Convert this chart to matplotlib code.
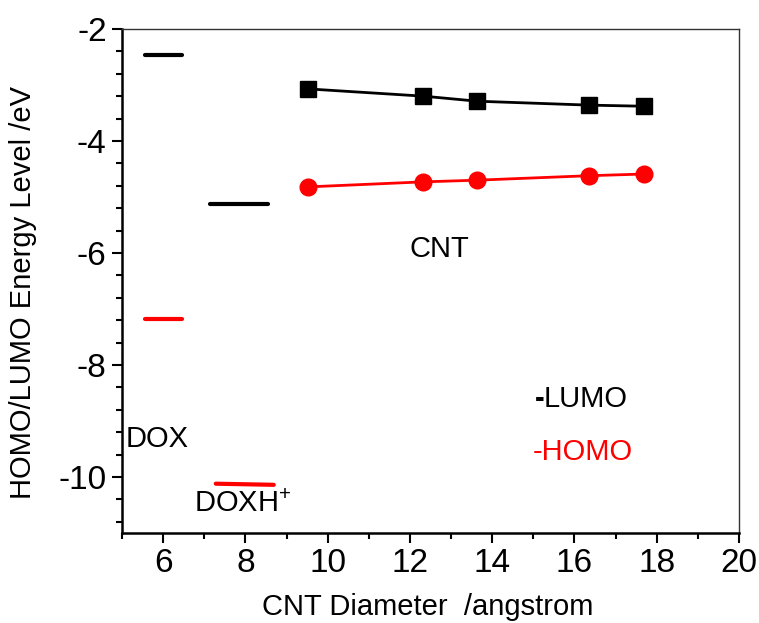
import matplotlib
matplotlib.use('Agg')
import matplotlib.pyplot as plt
from matplotlib.ticker import MultipleLocator

plt.rcParams['font.family'] = ['Liberation Sans', 'DejaVu Sans']
plt.rcParams['mathtext.fontset'] = 'custom'
plt.rcParams['mathtext.rm'] = 'Liberation Sans'
plt.rcParams['mathtext.default'] = 'regular'
plt.rcParams['axes.unicode_minus'] = False

# CNT diameters (angstrom) and their frontier orbital energies (eV)
cnt_diameter = [9.52, 12.33, 13.64, 16.36, 17.70]
cnt_lumo = [-3.07, -3.20, -3.29, -3.36, -3.38]
cnt_homo = [-4.82, -4.73, -4.70, -4.62, -4.59]

# DOX and DOXH+ levels drawn as short horizontal bars
dox_span = [5.55, 6.47]
dox_lumo = -2.47
dox_homo = -7.18
doxh_lumo_span = [7.14, 8.54]
doxh_homo_span = [7.28, 8.69]
doxh_lumo = -5.12
doxh_homo = -10.12

fig = plt.figure(figsize=(7.59, 6.23), dpi=100)
ax = fig.add_axes([0.1607, 0.1445, 0.8129, 0.809])

# CNT series
ax.plot(cnt_diameter, cnt_lumo, color='black', lw=2, marker='s', ms=11)
ax.plot(cnt_diameter, cnt_homo, color='red', lw=2, marker='o', ms=12)

# molecule levels
ax.plot(dox_span, [dox_lumo, dox_lumo], color='black', lw=3, solid_capstyle='round')
ax.plot(dox_span, [dox_homo, dox_homo], color='red', lw=3, solid_capstyle='round')
ax.plot(doxh_lumo_span, [doxh_lumo, doxh_lumo], color='black', lw=3, solid_capstyle='round')
ax.plot(doxh_homo_span, [doxh_homo, doxh_homo - 0.02], color='red', lw=3, solid_capstyle='round')

# annotations
ax.text(12.0, -5.93, 'CNT', fontsize=21, ha='left', va='center')
ax.text(5.1, -9.32, 'DOX', fontsize=21, ha='left', va='center')
ax.text(6.75, -10.48, 'DOXH$^{+}$', fontsize=21, ha='left', va='center')
ax.text(15.05, -8.6, '-', fontsize=21, ha='left', va='center', color='black', fontweight='bold')
ax.text(15.25, -8.6, 'LUMO', fontsize=21, ha='left', va='center', color='black')
ax.text(14.98, -9.55, '-HOMO', fontsize=21, ha='left', va='center', color='red')

ax.set_xlim(5, 20)
ax.set_ylim(-11, -2)
ax.xaxis.set_major_locator(MultipleLocator(2))
ax.xaxis.set_minor_locator(MultipleLocator(1))
ax.yaxis.set_major_locator(MultipleLocator(2))
ax.yaxis.set_minor_locator(MultipleLocator(0.4))
ax.tick_params(which='both', direction='out', top=False, right=False, width=1.5, labelsize=24)
ax.tick_params(which='major', length=7, pad=4)
ax.tick_params(which='minor', length=4)

for side in ['left', 'bottom']:
    ax.spines[side].set_linewidth(1.8)
for side in ['top', 'right']:
    ax.spines[side].set_linewidth(1.0)
    ax.spines[side].set_color('#333333')

ax.set_xlabel('CNT Diameter  /angstrom', fontsize=21)
ax.set_ylabel('HOMO/LUMO Energy Level /eV', fontsize=21)
ax.xaxis.set_label_coords(0.496, -0.12)
ax.yaxis.set_label_coords(-0.138, 0.478)

fig.savefig('out.png', dpi=100)
